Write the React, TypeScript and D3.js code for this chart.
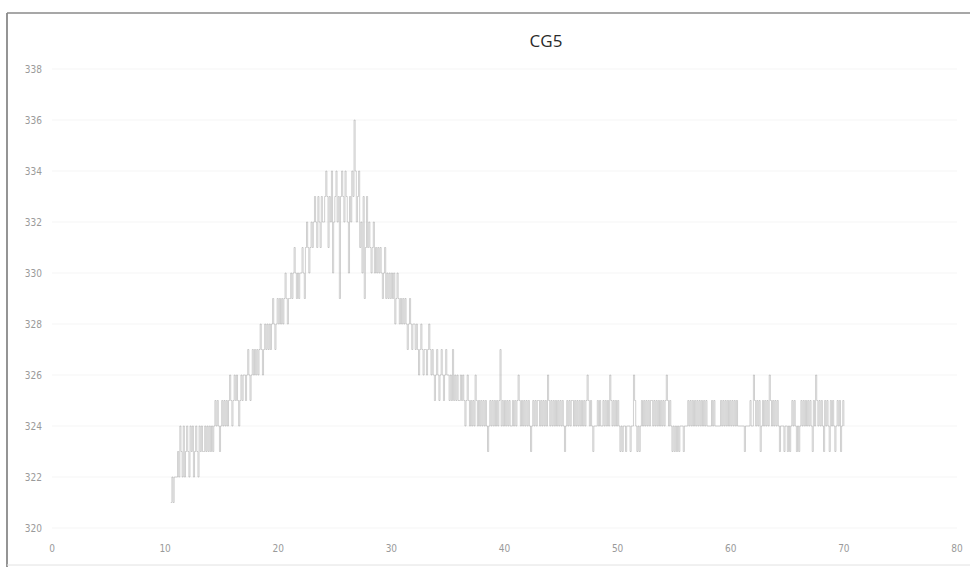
import React from "react";
import * as d3 from "d3";

const SAMPLE_STEP = 0.1;
const blockStarts = [10.5, 20, 30, 40, 50, 60];

const blockA = [
  321, 322, 321, 322, 322,
  322, 323, 322, 324, 323, 322, 324, 322, 323, 324,
  323, 322, 324, 323, 324, 322, 323, 324, 323, 322,
  324, 323, 324, 323, 323, 324, 323, 324, 323, 324,
  323, 324, 323, 324, 325, 324, 325, 324, 323, 324,
  325, 324, 325, 324, 325, 324, 325, 326, 325, 324,
  325, 326, 325, 326, 325, 324, 325, 326, 325, 326,
  326, 325, 326, 327, 326, 325, 326, 327, 326, 327,
  326, 327, 326, 327, 328, 327, 326, 327, 328, 327,
  328, 327, 328, 327, 328, 329, 328, 327, 328, 329,
];
const blockB = [
  328, 329, 328, 329, 328, 329, 330, 329, 328, 329,
  329, 330, 329, 330, 331, 330, 329, 330, 329, 330,
  330, 331, 330, 329, 331, 332, 331, 330, 331, 332,
  331, 332, 333, 332, 331, 333, 332, 331, 333, 332,
  332, 333, 334, 333, 331, 333, 332, 334, 330, 332,
  333, 334, 332, 333, 329, 333, 334, 333, 332, 334,
  333, 332, 330, 333, 332, 334, 333, 336, 334, 332,
  333, 334, 331, 332, 330, 333, 329, 331, 333, 331,
  332, 331, 330, 331, 332, 330, 331, 330, 331, 330,
  331, 330, 329, 330, 331, 329, 330, 329, 330, 329,
];
const blockC = [
  330, 329, 330, 328, 329, 330, 329, 328, 329, 328,
  329, 328, 329, 328, 327, 328, 329, 328, 327, 328,
  328, 327, 328, 327, 326, 327, 328, 327, 326, 327,
  327, 326, 327, 328, 327, 326, 327, 326, 325, 326,
  327, 326, 325, 326, 327, 326, 325, 326, 327, 326,
  326, 325, 326, 325, 327, 325, 326, 325, 326, 325,
  325, 326, 325, 326, 325, 324, 325, 326, 325, 324,
  325, 324, 325, 324, 326, 325, 324, 325, 324, 325,
  324, 325, 324, 325, 324, 323, 324, 325, 324, 325,
  324, 325, 324, 325, 324, 325, 327, 324, 325, 324,
];
const blockD = [
  325, 324, 325, 324, 325, 324, 324, 325, 324, 325,
  324, 325, 326, 325, 324, 325, 324, 325, 324, 325,
  324, 325, 324, 323, 324, 325, 324, 325, 324, 325,
  325, 324, 325, 324, 325, 324, 325, 324, 326, 325,
  324, 325, 324, 325, 324, 325, 324, 325, 324, 325,
  324, 325, 324, 323, 324, 325, 324, 325, 324, 325,
  325, 324, 325, 324, 325, 324, 325, 324, 325, 324,
  325, 324, 325, 326, 325, 324, 325, 324, 323, 324,
  324, 324, 325, 324, 325, 324, 324, 325, 324, 325,
  324, 325, 324, 326, 325, 324, 325, 324, 325, 324,
];
const blockE = [
  325, 324, 323, 324, 323, 324, 324, 323, 324, 324,
  324, 323, 324, 324, 326, 325, 324, 323, 324, 323,
  324, 325, 324, 325, 324, 325, 324, 325, 324, 325,
  325, 324, 325, 324, 325, 324, 325, 324, 325, 324,
  325, 324, 325, 326, 325, 324, 325, 324, 323, 324,
  323, 324, 323, 324, 323, 324, 324, 324, 323, 324,
  324, 324, 325, 324, 325, 324, 325, 324, 325, 324,
  325, 324, 325, 324, 325, 324, 325, 324, 325, 324,
  324, 324, 324, 325, 324, 325, 324, 324, 324, 324,
  324, 325, 324, 325, 324, 325, 324, 325, 324, 325,
];
const blockF = [
  324, 325, 324, 325, 324, 325, 324, 324, 324, 324,
  324, 324, 323, 324, 324, 324, 324, 325, 324, 324,
  326, 325, 324, 325, 324, 325, 323, 324, 325, 324,
  325, 324, 325, 324, 326, 325, 324, 325, 324, 325,
  324, 325, 324, 323, 324, 324, 324, 323, 324, 324,
  323, 324, 323, 324, 325, 324, 325, 324, 323, 324,
  323, 324, 325, 324, 325, 324, 325, 324, 325, 324,
  325, 324, 323, 325, 324, 326, 325, 324, 325, 324,
  325, 324, 323, 325, 324, 325, 324, 323, 325, 324,
  325, 324, 323, 324, 325, 324, 325, 323, 324, 325,
  324,
];

const xTicks = [0, 10, 20, 30, 40, 50, 60, 70, 80];
const yTicks = [320, 322, 324, 326, 328, 330, 332, 334, 336, 338];
const TITLE = "CG5";

const blocks = [blockA, blockB, blockC, blockD, blockE, blockF];
const points: [number, number][] = [];
blocks.forEach((b, bi) => {
  b.forEach((v, i) => points.push([blockStarts[bi] + i * SAMPLE_STEP, v]));
});

export default function App() {
  const W = 970;
  const H = 567;
  const x = d3.scaleLinear().domain([0, 80]).range([52, 957]);
  const y = d3.scaleLinear().domain([320, 338]).range([528, 69]);
  const line = d3
    .line<[number, number]>()
    .x((d) => x(d[0]))
    .y((d) => y(d[1]))
    .curve(d3.curveStepAfter);

  const labelFont = "'Liberation Sans Narrow', 'DejaVu Sans Condensed', sans-serif";
  return (
    <svg
      width={W}
      height={H}
      style={{ position: "absolute", left: 0, top: 0, background: "#fff" }}
    >
      <rect x={0} y={0} width={W} height={H} fill="#fff" />
      {/* faint gridlines */}
      {yTicks.map((t) => (
        <line key={"g" + t} x1={x(0)} x2={x(80)} y1={y(t)} y2={y(t)} stroke="#f5f5f5" strokeWidth={1} />
      ))}
      {/* frame */}
      <line x1={7} x2={7} y1={13} y2={H} stroke="#7a7a7a" strokeWidth={1.6} />
      <line x1={7} x2={W} y1={13} y2={13} stroke="#8a8a8a" strokeWidth={1.6} />
      <line x1={7} x2={W} y1={H - 2} y2={H - 2} stroke="#e2e2e2" strokeWidth={1} />
      {/* title */}
      <text x={546} y={42} textAnchor="middle" dominantBaseline="middle" fontFamily="'Open Sans', sans-serif" fontSize={17} fill="#2a2a2a">
        {TITLE}
      </text>
      {/* y labels */}
      {yTicks.map((t) => (
        <text key={"y" + t} x={42} y={y(t)} dy="0.35em" textAnchor="end" fontFamily={labelFont} fontSize={10} fill="#9a9a9a">
          {t}
        </text>
      ))}
      {/* x labels */}
      {xTicks.map((t) => (
        <text key={"x" + t} x={x(t)} y={552} textAnchor="middle" fontFamily={labelFont} fontSize={10} fill="#9a9a9a">
          {t}
        </text>
      ))}
      {/* series */}
      <path d={line(points) || ""} fill="none" stroke="#a0a0a0" strokeWidth={0.5} />
    </svg>
  );
}
